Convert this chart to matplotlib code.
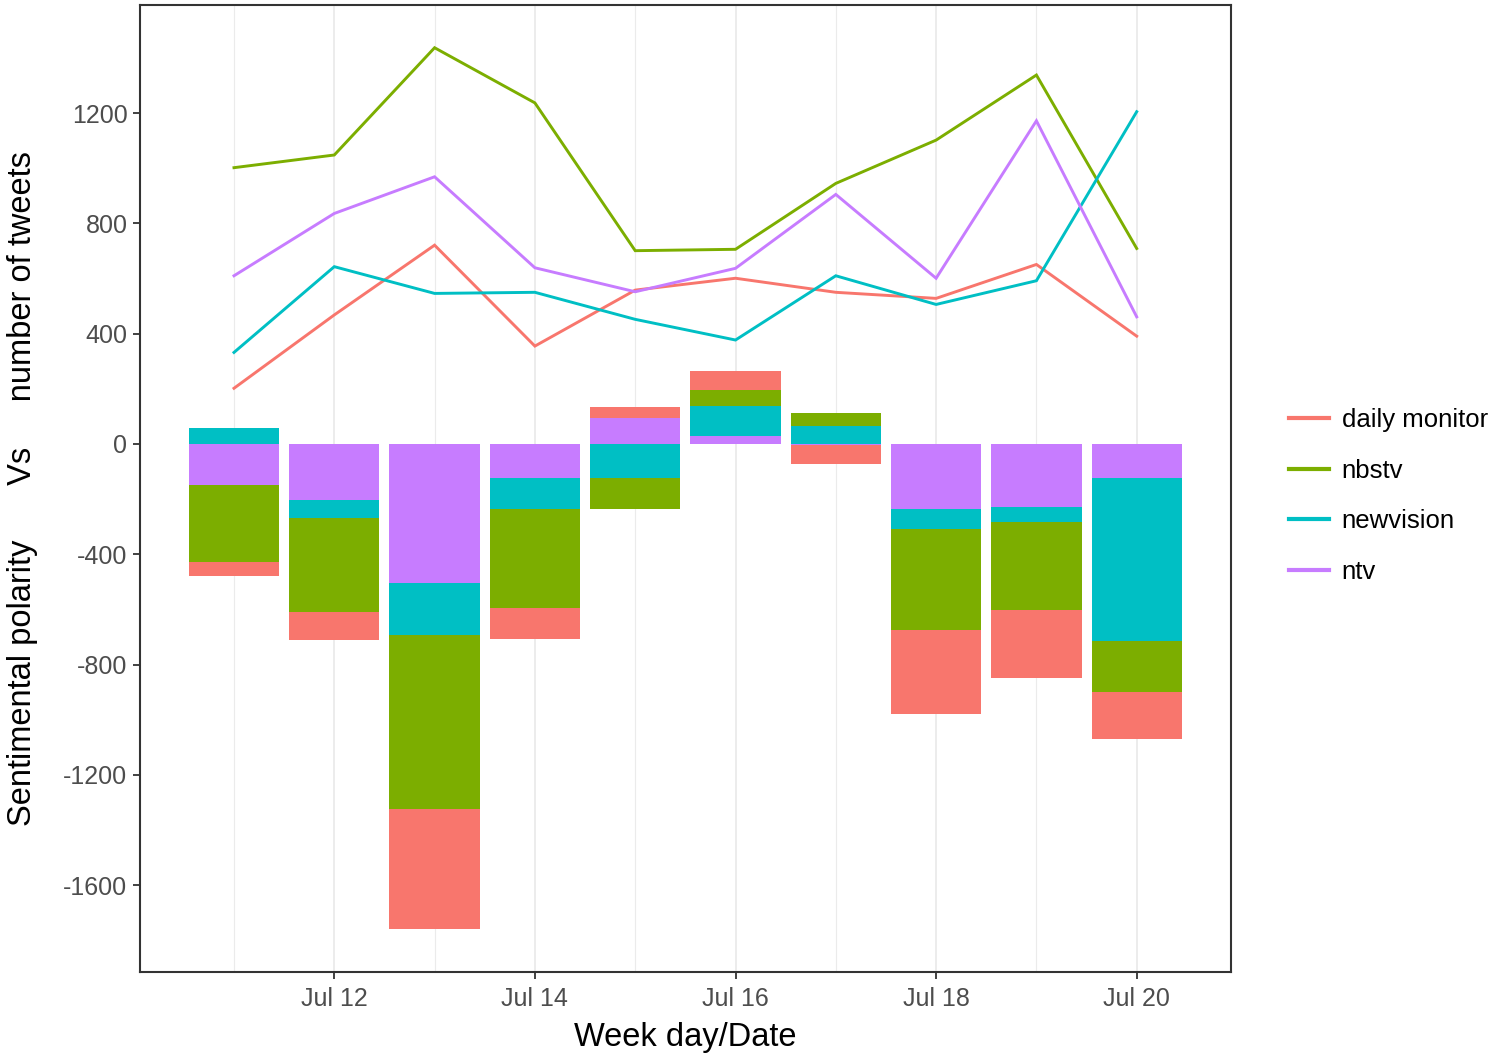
import matplotlib
matplotlib.use('Agg')
import matplotlib.pyplot as plt
import numpy as np
from matplotlib.lines import Line2D

plt.rcParams['font.family'] = ['Liberation Sans', 'DejaVu Sans']
plt.rcParams['axes.unicode_minus'] = False

# days of July
days = [11, 12, 13, 14, 15, 16, 17, 18, 19, 20]
tick_days = [12, 14, 16, 18, 20]
tick_labels = ['Jul 12', 'Jul 14', 'Jul 16', 'Jul 18', 'Jul 20']

sources = ['daily monitor', 'nbstv', 'newvision', 'ntv']
colors = ['#F8766D', '#7CAE00', '#00BFC4', '#C77CFF']

# number of tweets per day
tweets_daily_monitor = [202, 468, 721, 355, 558, 601, 550, 528, 651, 391]
tweets_nbstv = [1002, 1048, 1437, 1237, 701, 706, 945, 1102, 1338, 709]
tweets_newvision = [332, 643, 546, 550, 452, 377, 610, 506, 592, 1205]
tweets_ntv = [610, 836, 969, 639, 552, 637, 905, 601, 1172, 461]

# sentiment polarity per day
pol_daily_monitor = [-52, -102, -435, -110, 40, 71, -68, -306, -247, -171]
pol_nbstv = [-278, -341, -633, -360, -113, 58, 49, -365, -318, -184]
pol_newvision = [58, -66, -188, -113, -123, 107, 64, -74, -57, -594]
pol_ntv = [-149, -203, -503, -123, 94, 30, -3, -236, -227, -122]

tweets = [tweets_daily_monitor, tweets_nbstv, tweets_newvision, tweets_ntv]
pols = [pol_daily_monitor, pol_nbstv, pol_newvision, pol_ntv]

fig = plt.figure(figsize=(15, 10.59), dpi=100)
ax = fig.add_axes([140 / 1500, 1 - 972 / 1059, 1091 / 1500, 967 / 1059])

x = np.array(days, dtype=float)

# grid first
for d in days:
    ax.axvline(d, color='#EBEBEB', lw=1.3 if d in tick_days else 0.8, zorder=0)

# stacked bars, ntv nearest zero, daily monitor farthest
pos_bottom = np.zeros(len(days))
neg_bottom = np.zeros(len(days))
for i in [3, 2, 1, 0]:
    v = np.asarray(pols[i], dtype=float)
    bottom = np.where(v >= 0, pos_bottom, neg_bottom)
    ax.bar(x, v, bottom=bottom, width=0.9, color=colors[i], lw=0, zorder=2)
    pos_bottom = pos_bottom + np.where(v >= 0, v, 0)
    neg_bottom = neg_bottom + np.where(v < 0, v, 0)

for i in range(4):
    ax.plot(x, tweets[i], color=colors[i], lw=2.1, zorder=3, solid_joinstyle='miter')

ax.set_xlim(10.063, 20.94)
ax.set_ylim(-1915, 1592)
ax.set_xticks(tick_days)
ax.set_xticklabels(tick_labels)
ax.set_yticks([-1600, -1200, -800, -400, 0, 400, 800, 1200])
ax.tick_params(axis='both', length=5, width=1.3, color='#333333', labelcolor='#4D4D4D',
               labelsize=18, pad=4)
ax.tick_params(axis='x', pad=6)

for s in ax.spines.values():
    s.set_color('#333333')
    s.set_linewidth(1.5)

ax.set_xlabel('Week day/Date', fontsize=23.5, labelpad=8)
ax.set_ylabel('Sentimental polarity' + ' ' * 6 + 'Vs' + ' ' * 5 + 'number of tweets',
              fontsize=23.5, labelpad=18)

handles = [Line2D([0], [0], color=c, lw=3) for c in colors]
fig.legend(handles, sources, loc='center left', bbox_to_anchor=(1266 / 1500, 1 - 496 / 1059),
           frameon=False, fontsize=18.5, handlelength=1.55, handletextpad=0.5, labelspacing=1.05)

fig.savefig('out.png', dpi=100)
